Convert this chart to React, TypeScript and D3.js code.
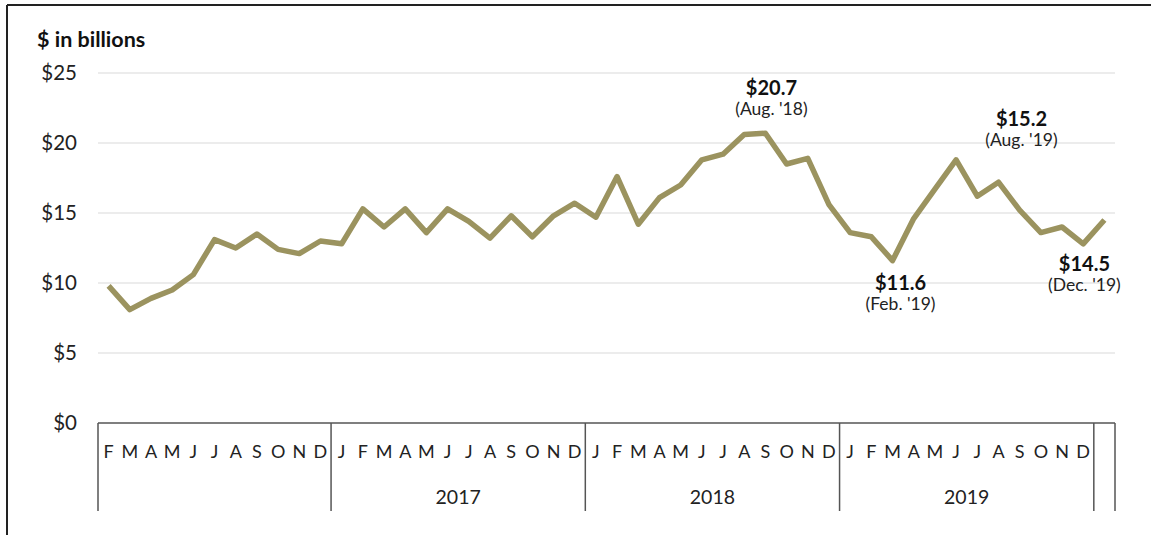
import React from "react";
import { scaleBand, scaleLinear, line } from "d3";

// monthly values, Feb 2016 .. Jan 2020 ($ billions)
const monthLabels = [
  "F", "M", "A", "M", "J", "J", "A", "S", "O", "N", "D",
  "J", "F", "M", "A", "M", "J", "J", "A", "S", "O", "N", "D",
  "J", "F", "M", "A", "M", "J", "J", "A", "S", "O", "N", "D",
  "J", "F", "M", "A", "M", "J", "J", "A", "S", "O", "N", "D",
  "",
];
const values = [
  9.8, 8.1, 8.9, 9.5, 10.6, 13.1, 12.5, 13.5, 12.4, 12.1, 13.0,
  12.8, 15.3, 14.0, 15.3, 13.6, 15.3, 14.4, 13.2, 14.8, 13.3, 14.8, 15.7,
  14.7, 17.6, 14.2, 16.1, 17.0, 18.8, 19.2, 20.6, 20.7, 18.5, 18.9, 15.6,
  13.6, 13.3, 11.6, 14.6, 16.7, 18.8, 16.2, 17.2, 15.2, 13.6, 14.0, 12.8,
  14.5,
];
const yTicks = [0, 5, 10, 15, 20, 25];
const yearLabels = ["", "2017", "2018", "2019", ""];
const yearSizes = [11, 12, 12, 12, 1];

const annotations = [
  { title: "$20.7", sub: "(Aug. '18)", index: 31, dx: 6, dy: -38 },
  { title: "$15.2", sub: "(Aug. '19)", index: 42, dx: 23, dy: -56 },
  { title: "$11.6", sub: "(Feb. '19)", index: 37, dx: 8, dy: 29 },
  { title: "$14.5", sub: "(Dec. '19)", index: 47, dx: -20, dy: 51 },
];

const W = 1151;
const H = 535;
const left = 98;
const right = 1115;
const top = 73;
const bottom = 423;
const axisBottomY = 511;
const font = "Lato, 'Open Sans', sans-serif";

const App = () => {
  const x = scaleBand<number>()
    .domain(values.map((v, i) => i))
    .range([left, right])
    .padding(0);
  const y = scaleLinear().domain([0, 25]).range([bottom, top]);
  const cx = (i: number) => (x(i) as number) + x.bandwidth() / 2;

  const path = line<number>()
    .x((v, i) => cx(i))
    .y((v) => y(v))(values);

  // boundaries between year groups
  const bounds: number[] = [0];
  yearSizes.forEach((n) => bounds.push(bounds[bounds.length - 1] + n));

  return (
    <svg
      width={W}
      height={H}
      style={{ position: "absolute", left: 0, top: 0, background: "#fff" }}
      fontFamily={font}
    >
      {/* frame (top + left only) */}
      <line x1={7} x2={W} y1={5} y2={5} stroke="#222" strokeWidth={2} />
      <line x1={7} x2={7} y1={5} y2={H} stroke="#222" strokeWidth={2} />

      <text x={37} y={47} fontSize={21.5} fontWeight="bold" fill="#111">
        $ in billions
      </text>

      {yTicks.map((t) => (
        <g key={t}>
          {t > 0 && (
            <line x1={left} x2={right} y1={y(t)} y2={y(t)} stroke="#d9d9d9" strokeWidth={1} />
          )}
          <text x={77} y={y(t) + 7} fontSize={20.5} textAnchor="end" fill="#222">
            ${t}
          </text>
        </g>
      ))}

      {/* category axis */}
      <line x1={left} x2={right} y1={bottom} y2={bottom} stroke="#555" strokeWidth={1.5} />
      {bounds.map((b, i) => {
        const bx = b < values.length ? (x(b) as number) : right;
        return (
          <line key={i} x1={bx} x2={bx} y1={bottom} y2={axisBottomY} stroke="#555" strokeWidth={1.5} />
        );
      })}
      {monthLabels.map((m, i) => (
        <text key={i} x={cx(i)} y={458} fontSize={18} textAnchor="middle" fill="#222">
          {m}
        </text>
      ))}
      {yearLabels.map((yl, i) => {
        const x0 = x(bounds[i]) as number;
        const x1 = bounds[i + 1] < values.length ? (x(bounds[i + 1]) as number) : right;
        return (
          <text key={i} x={(x0 + x1) / 2} y={504} fontSize={19.5} textAnchor="middle" fill="#222">
            {yl}
          </text>
        );
      })}

      <path d={path || ""} fill="none" stroke="#9b935f" strokeWidth={5.5} strokeLinejoin="round" />

      {annotations.map((a) => {
        const ax = cx(a.index) + a.dx;
        const ay = y(values[a.index]) + a.dy;
        return (
          <g key={a.title}>
            <text x={ax} y={ay} fontSize={20} fontWeight="bold" textAnchor="middle" fill="#111">
              {a.title}
            </text>
            <text x={ax} y={ay + 20} fontSize={17.5} textAnchor="middle" fill="#222">
              {a.sub}
            </text>
          </g>
        );
      })}
    </svg>
  );
};

export default App;
